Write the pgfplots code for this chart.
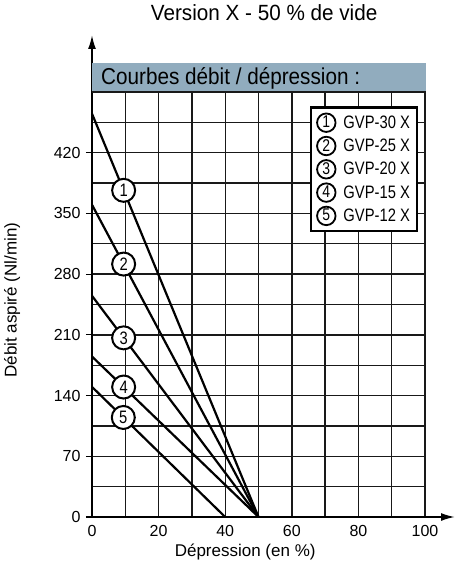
\documentclass[border=0pt]{standalone}
\usepackage{pgfplots}
\pgfplotsset{compat=1.18}
\usepackage{fontspec}
\setmainfont{Liberation Sans}
\newfontfamily\narrowA[FakeStretch=0.90]{Liberation Sans}
\newfontfamily\narrowB[FakeStretch=0.82]{Liberation Sans}
\newfontfamily\narrowC[FakeStretch=0.94]{Liberation Sans}
\usetikzlibrary{arrows.meta}
\definecolor{bandblue}{RGB}{145,172,190}

\tikzset{
  num/.style={circle,draw=black,line width=2pt,fill=white,inner sep=0pt,
    minimum size=23pt,font=\fontsize{18}{18}\narrowB},
  lnum/.style={circle,draw=black,line width=1.8pt,fill=white,inner sep=0pt,
    minimum size=18.5pt,font=\fontsize{17}{17}\narrowB},
}

\begin{document}
\begin{tikzpicture}
\path[use as bounding box] (-92pt,-53pt) rectangle (365pt,517pt);
\begin{axis}[
  at={(0,0)}, anchor=south west,
  scale only axis, width=333pt, height=425pt,
  xmin=0, xmax=100, ymin=0, ymax=490,
  axis lines=left,
  axis line style={line width=1.8pt,-{Latex[length=14pt,width=8pt]}},
  x axis line style={shorten >=-30pt},
  y axis line style={shorten >=-57pt},
  xtick={0,20,...,100}, minor xtick={10,30,...,90},
  ytick={0,70,...,420}, minor ytick={35,105,...,490},
  grid=both,
  grid style={line width=1.4pt,black!90},
  major grid style={line width=1.4pt,black!90},
  minor grid style={line width=1.4pt,black!90},
  tick align=outside,
  major tick length=6pt, minor tick length=0pt,
  tick style={line width=1.2pt,black},
  xtick style={draw=none},
  /pgf/number format/assume math mode=true,
  ticklabel style={font=\fontsize{16}{16}\selectfont},
  yticklabel style={xshift=-2pt},
  xticklabel style={yshift=1pt},
  xlabel={Dépression (en \%)},
  ylabel={Débit aspiré (Nl/min)},
  xlabel style={font=\fontsize{17}{17}\selectfont, at={(axis description cs:0.46,-0.082)}, anchor=center},
  ylabel style={font=\fontsize{17}{17}\selectfont, at={(axis description cs:-0.24,0.51)}, anchor=center, rotate=0},
  title={Version X - 50 \% de vide},
  title style={font=\fontsize{22}{22}\narrowC, at={(axis description cs:0.517,1.172)}, anchor=center},
  clip=false,
  legend cell align=left,
  legend style={at={(axis description cs:0.979,0.966)}, anchor=north east,
    draw=black, line width=2.2pt, fill=white,
    font=\fontsize{18}{18}\narrowB, row sep=3pt,
    inner xsep=5pt, inner ysep=5pt},
]
\fill[bandblue] (rel axis cs:0,1) rectangle ([yshift=29pt]rel axis cs:1.003,1);
\draw[line width=1.4pt,black!90] (rel axis cs:0,1) -- (rel axis cs:1.003,1);
\node[anchor=west,font=\fontsize{23}{23}\narrowA,inner sep=0pt]
  at ([xshift=9pt,yshift=14pt]rel axis cs:0,1) {Courbes débit / dépression :};

\addplot[line width=2.2pt,black,
  legend image code/.code={\node[lnum] at (9.25pt,0) {1};}]
  coordinates {(0,465) (50,0)} node[num,pos=0.19] {1};
\addlegendentry{\hspace{5pt}GVP-30 X\hspace{4pt}}
\addplot[line width=2.2pt,black,
  legend image code/.code={\node[lnum] at (9.25pt,0) {2};}]
  coordinates {(0,360) (50,0)} node[num,pos=0.19] {2};
\addlegendentry{\hspace{5pt}GVP-25 X\hspace{4pt}}
\addplot[line width=2.2pt,black,
  legend image code/.code={\node[lnum] at (9.25pt,0) {3};}]
  coordinates {(0,255) (50,0)} node[num,pos=0.19] {3};
\addlegendentry{\hspace{5pt}GVP-20 X\hspace{4pt}}
\addplot[line width=2.2pt,black,
  legend image code/.code={\node[lnum] at (9.25pt,0) {4};}]
  coordinates {(0,185) (50,0)} node[num,pos=0.19] {4};
\addlegendentry{\hspace{5pt}GVP-15 X\hspace{4pt}}
\addplot[line width=2.2pt,black,
  legend image code/.code={\node[lnum] at (9.25pt,0) {5};}]
  coordinates {(0,150) (40,0)} node[num,pos=0.235] {5};
\addlegendentry{\hspace{5pt}GVP-12 X\hspace{4pt}}
\end{axis}
\end{tikzpicture}
\end{document}
